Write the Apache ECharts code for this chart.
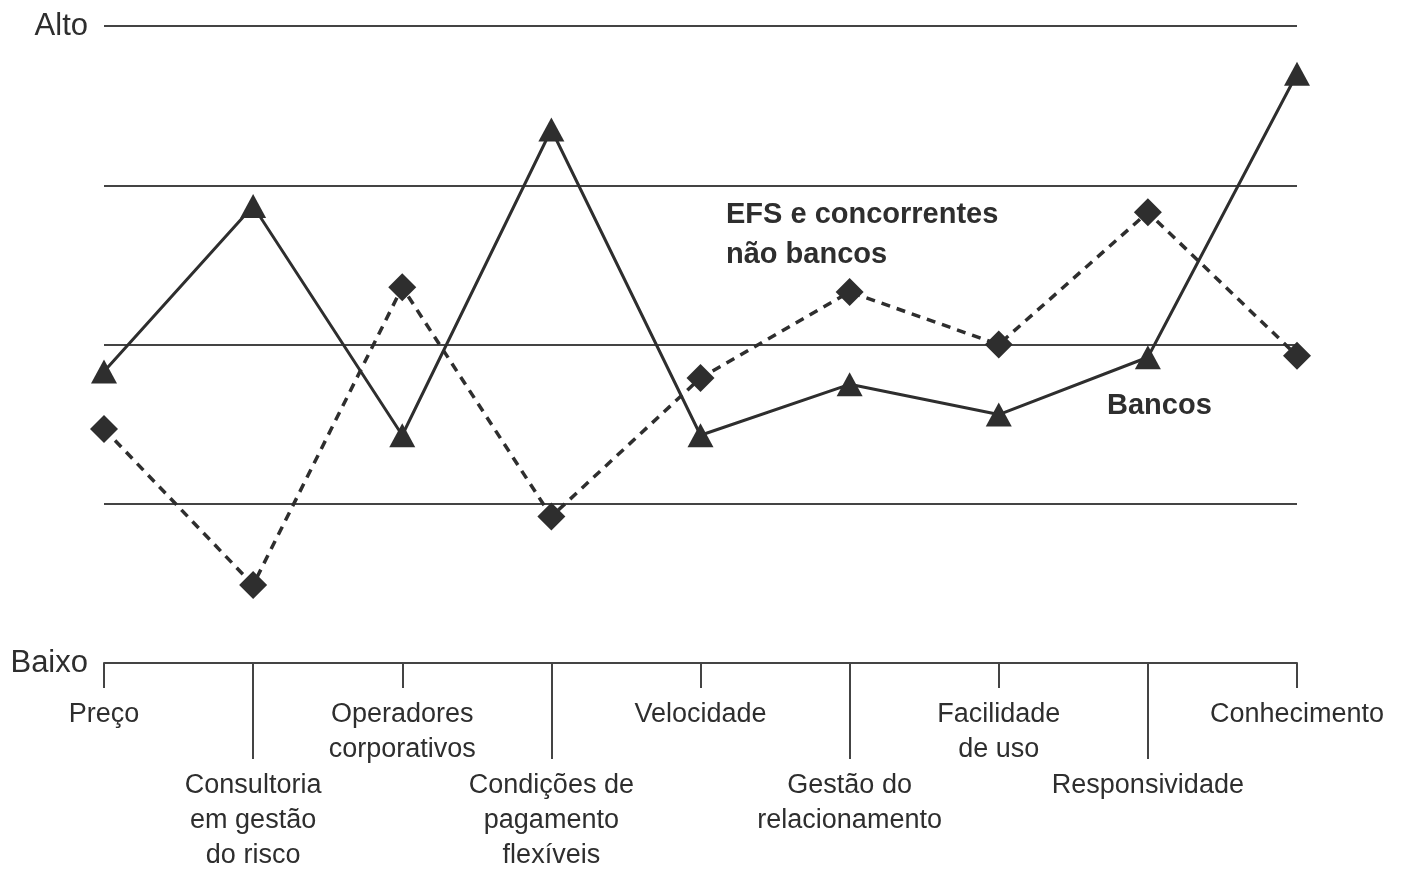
<!DOCTYPE html>
<html>
<head>
<meta charset="utf-8">
<title>Bancos x EFS</title>
<script src="https://cdn.jsdelivr.net/npm/echarts@6/dist/echarts.min.js"></script>
<style>
  html, body { margin: 0; padding: 0; background: #fff; }
  #chart { width: 1401px; height: 873px; }
</style>
</head>
<body>
<div id="chart"></div>
<script>
  // categorias do eixo x (quebras de linha como no original)
  var categories = [
    'Preço',
    'Consultoria\nem gestão\ndo risco',
    'Operadores\ncorporativos',
    'Condições de\npagamento\nflexíveis',
    'Velocidade',
    'Gestão do\nrelacionamento',
    'Facilidade\nde uso',
    'Responsividade',
    'Conhecimento'
  ]
  // escala 0 (Baixo) .. 4 (Alto)
  var yTickLabels = ['Baixo', '', '', '', 'Alto']
  var bancos = [1.83, 2.87, 1.43, 3.35, 1.43, 1.75, 1.56, 1.92, 3.70]
  var efs = [1.47, 0.49, 2.36, 0.92, 1.79, 2.33, 2.0, 2.83, 1.93]

  var ink = '#2e2e2e'
  var font = '"Liberation Sans", Arial, sans-serif'

  var chart = echarts.init(document.getElementById('chart'))
  chart.setOption({
    backgroundColor: '#fff',
    animation: false,
    grid: {
      left: 104,
      right: 104,
      top: 26,
      bottom: 202,
      containLabel: false
    },
    xAxis: [
      {
        // ticks curtos, rótulos de cima
        type: 'category',
        data: categories,
        boundaryGap: false,
        position: 'bottom',
        axisLine: { show: true, lineStyle: { color: '#444', width: 2 } },
        axisTick: {
          show: true,
          length: 25,
          interval: function (i) { return i % 2 === 0 },
          lineStyle: { color: '#444', width: 2 }
        },
        axisLabel: {
          interval: function (i) { return i % 2 === 0 },
          margin: 34,
          color: ink,
          fontSize: 27,
          lineHeight: 35,
          fontFamily: font,
          align: 'center',
          hideOverlap: false
        },
        splitLine: { show: false }
      },
      {
        // ticks longos, rótulos de baixo
        type: 'category',
        data: categories,
        boundaryGap: false,
        position: 'bottom',
        axisLine: { show: false },
        axisTick: {
          show: true,
          length: 96,
          interval: function (i) { return i % 2 === 1 },
          lineStyle: { color: '#444', width: 2 }
        },
        axisLabel: {
          interval: function (i) { return i % 2 === 1 },
          margin: 105,
          color: ink,
          fontSize: 27,
          lineHeight: 35,
          fontFamily: font,
          align: 'center',
          hideOverlap: false
        },
        splitLine: { show: false }
      }
    ],
    yAxis: {
      type: 'value',
      min: 0,
      max: 4,
      interval: 1,
      axisLine: { show: false },
      axisTick: { show: false },
      axisLabel: {
        margin: 16,
        color: ink,
        fontSize: 31,
        fontFamily: font,
        padding: [5, 0, 0, 0],
        formatter: function (v) { return yTickLabels[Math.round(v)] || '' }
      },
      splitLine: { show: true, lineStyle: { color: '#444', width: 2 } }
    },
    series: [
      {
        name: 'Bancos',
        type: 'line',
        data: bancos,
        symbol: 'triangle',
        symbolSize: [26, 24],
        lineStyle: { color: ink, width: 3 },
        itemStyle: { color: ink },
        z: 3
      },
      {
        name: 'EFS e concorrentes não bancos',
        type: 'line',
        data: efs,
        symbol: 'diamond',
        symbolSize: 28,
        lineStyle: { color: ink, width: 3.5, type: [9, 7] },
        itemStyle: { color: ink },
        z: 3
      }
    ],
    graphic: [
      {
        type: 'text',
        left: 726,
        top: 195,
        style: {
          text: 'EFS e concorrentes\nnão bancos',
          fill: ink,
          font: 'bold 29px ' + font,
          lineHeight: 40
        }
      },
      {
        type: 'text',
        left: 1107,
        top: 391,
        style: {
          text: 'Bancos',
          fill: ink,
          font: 'bold 29px ' + font
        }
      }
    ]
  })
</script>
</body>
</html>
